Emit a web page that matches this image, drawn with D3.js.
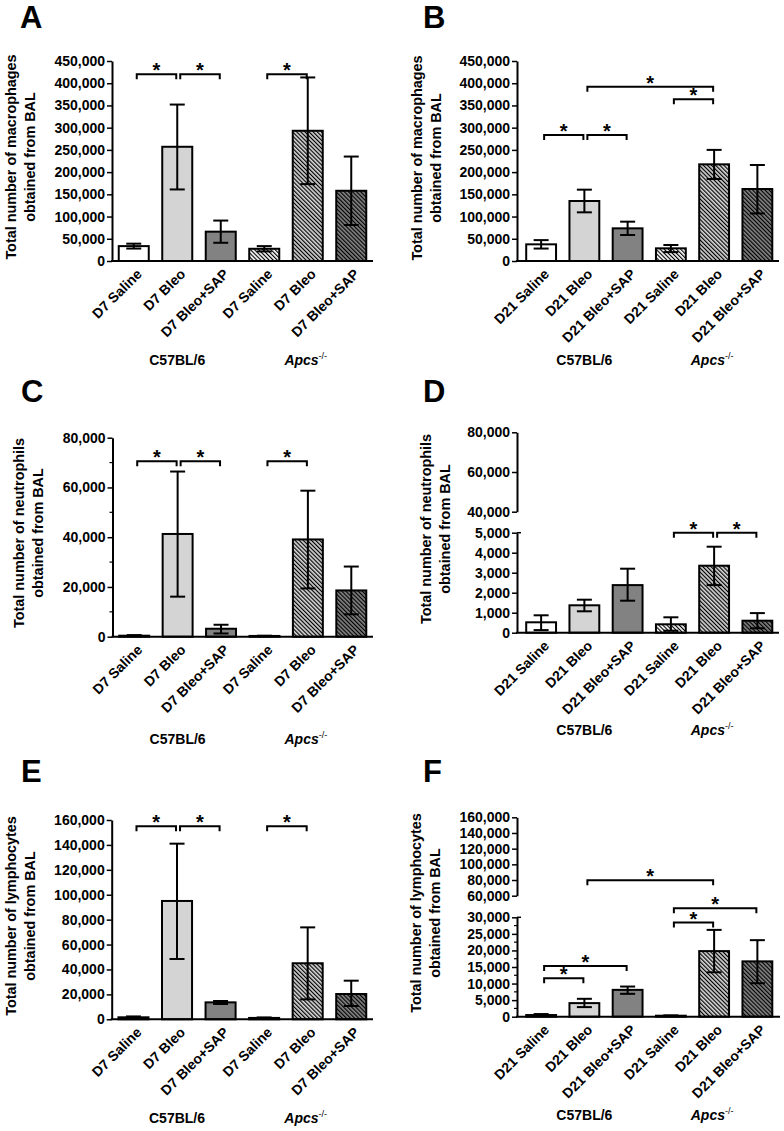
<!DOCTYPE html>
<html><head><meta charset="utf-8">
<script src="https://cdn.jsdelivr.net/npm/d3@7"></script>
<style>
body{margin:0;background:#fff}
text{font-family:"Liberation Sans",Arial,sans-serif;font-weight:bold;fill:#000}
</style>
</head><body>
<svg id="c" width="784" height="1131"></svg>
<script>
// ---------- data ----------
const labelsD7 = ["D7 Saline","D7 Bleo","D7 Bleo+SAP","D7 Saline","D7 Bleo","D7 Bleo+SAP"];
const labelsD21 = ["D21 Saline","D21 Bleo","D21 Bleo+SAP","D21 Saline","D21 Bleo","D21 Bleo+SAP"];
const strainLabels = ["C57BL/6","Apcs"];
const barFills = ["#ffffff","#d4d4d4","#828282","#ffffff","#d4d4d4","#828282"];
const barHatched = [false,false,false,true,true,true];

// A: macrophages D7
const macroD7Mean = [33500,257000,66000,27500,293000,158000];
const macroD7Low  = [28000,161000,41000,21500,173000,81000];
const macroD7High = [39000,352000,91000,33500,413000,235000];
const macroD7Sig  = [[0,1,420000],[1,2,420000],[3,4,420000]];
// B: macrophages D21
const macroD21Mean = [37500,135000,73500,28500,217500,162000];
const macroD21Low  = [28000,109500,58500,20000,184500,107000];
const macroD21High = [47000,160500,88500,36000,250000,216000];
const macroD21Sig  = [[0,1,283500],[1,2,283500],[3,4,364000],[1,4,392000]];
// C: neutrophils D7
const neutD7Mean = [400,41300,3200,300,39100,18600];
const neutD7Low  = [250,16100,1300,200,19400,9000];
const neutD7High = [650,66400,4800,400,58700,28200];
const neutD7Sig  = [[0,1,70500],[1,2,70500],[3,4,70500]];
// D: neutrophils D21
const neutD21Mean = [520,1370,2380,420,3350,600];
const neutD21Low  = [130,1070,1600,100,2380,220];
const neutD21High = [870,1650,3200,770,4300,980];
const neutD21Sig  = [[3,4,5000],[4,5,5000]];
// E: lymphocytes D7
const lymphD7Mean = [1600,95000,13600,1100,45000,20300];
const lymphD7Low  = [900,48400,12300,700,16000,10700];
const lymphD7High = [2300,141000,14700,1500,73800,31000];
const lymphD7Sig  = [[0,1,155000],[1,2,155000],[3,4,155000]];
// F: lymphocytes D21
const lymphD21Mean = [500,4100,8100,300,19800,16700];
const lymphD21Low  = [300,2900,6900,200,13400,10100];
const lymphD21High = [800,5400,9100,400,26200,23100];
const lymphD21Sig  = [[0,1,11600],[0,2,15300],[3,4,28400],[3,5,42500],[1,4,79600]];

// tick values
const macroTicks = [0,50000,100000,150000,200000,250000,300000,350000,400000,450000];
const neutD7Ticks = [0,20000,40000,60000,80000];
const neutD7Minor = [10000,30000,50000,70000];
const neutD21TicksLow = [0,1000,2000,3000,4000,5000];
const neutD21TicksHigh = [40000,60000,80000];
const lymphD7Ticks = [0,20000,40000,60000,80000,100000,120000,140000,160000];
const lymphD21TicksLow = [0,5000,10000,15000,20000,25000,30000];
const lymphD21MinorLow = [2500,7500,12500,17500,22500,27500];
const lymphD21TicksHigh = [60000,80000,100000,120000,140000,160000];

// ---------- layout ----------
const panels = [
 {L:"A", lx:20, ly:28, ax:112, br:[112,373], xEnd:373,
  segs:[{d:[0,450000], r:[261,61], t:macroTicks}],
  mean:macroD7Mean, low:macroD7Low, high:macroD7High, sig:macroD7Sig, labels:labelsD7,
  title:["Total number of macrophages","obtained from BAL"], tx:11, ty:157, gy:365},
 {L:"B", lx:423, ly:28, ax:517, br:[519.5,779], xEnd:779,
  segs:[{d:[0,450000], r:[261,61], t:macroTicks}],
  mean:macroD21Mean, low:macroD21Low, high:macroD21High, sig:macroD21Sig, labels:labelsD21,
  title:["Total number of macrophages","obtained from BAL"], tx:417, ty:158, gy:365},
 {L:"C", lx:21, ly:402, ax:112.5, br:[112.5,373], xEnd:373,
  segs:[{d:[0,80000], r:[636.7,437.7], t:neutD7Ticks, m:neutD7Minor}],
  mean:neutD7Mean, low:neutD7Low, high:neutD7High, sig:neutD7Sig, labels:labelsD7,
  title:["Total number of neutrophils","obtained from BAL"], tx:19, ty:533, gy:744},
 {L:"D", lx:423, ly:402, ax:517, br:[519.5,779], xEnd:779,
  segs:[{d:[0,5000], r:[632.7,532.7], t:neutD21TicksLow, cap:true},
        {d:[40000,80000], r:[511.7,432.3], t:neutD21TicksHigh}],
  mean:neutD21Mean, low:neutD21Low, high:neutD21High, sig:neutD21Sig, labels:labelsD21,
  title:["Total number of neutrophils","obtained from BAL"], tx:426, ty:529, gy:735},
 {L:"E", lx:21, ly:782, ax:111.7, br:[111.7,373], xEnd:373,
  segs:[{d:[0,160000], r:[1019.3,820], t:lymphD7Ticks}],
  mean:lymphD7Mean, low:lymphD7Low, high:lymphD7High, sig:lymphD7Sig, labels:labelsD7,
  title:["Total number of lymphocytes","obtained from BAL"], tx:11, ty:916, gy:1123},
 {L:"F", lx:423, ly:782, ax:517, br:[519.5,779], xEnd:780,
  segs:[{d:[0,30000], r:[1016.7,917.3], t:lymphD21TicksLow, m:lymphD21MinorLow, cap:true},
        {d:[60000,160000], r:[895.7,817.3], t:lymphD21TicksHigh}],
  mean:lymphD21Mean, low:lymphD21Low, high:lymphD21High, sig:lymphD21Sig, labels:labelsD21,
  title:["Total number of lymphocytes","obtained from BAL"], tx:416, ty:913, gy:1120}
];

const svg = d3.select("#c");
const defs = svg.append("defs");
barFills.forEach((c,i)=>{
  if(!barHatched[i]) return;
  const p = defs.append("pattern").attr("id","hatch"+i)
    .attr("patternUnits","userSpaceOnUse").attr("width",2.9).attr("height",10)
    .attr("patternTransform","rotate(-45)");
  p.append("rect").attr("width",2.9).attr("height",10).attr("fill",c);
  p.append("rect").attr("width",1.15).attr("height",10).attr("fill","#000");
});
const fmt = d3.format(",");

panels.forEach(P=>{
  const g = svg.append("g");
  const idx = d3.range(P.mean.length);
  const x = d3.scaleBand().domain(idx).range(P.br).paddingInner(0.31).paddingOuter(0.155);
  const dom = [], rng = [];
  P.segs.forEach(s=>{dom.push(s.d[0],s.d[1]); rng.push(s.r[0],s.r[1]);});
  const y = d3.scaleLinear().domain(dom).range(rng);
  const y0 = y(0);
  const cx = i => x(i) + x.bandwidth()/2;

  // bars
  g.selectAll("rect.bar").data(idx).join("rect").attr("class","bar")
    .attr("x", i=>x(i)).attr("width", x.bandwidth())
    .attr("y", i=>y(P.mean[i])).attr("height", i=>y0 - y(P.mean[i]))
    .attr("fill", i=> barHatched[i] ? "url(#hatch"+i+")" : barFills[i])
    .attr("stroke","#000").attr("stroke-width",2);

  // error bars
  const cw = 7.5;
  idx.forEach(i=>{
    const c = cx(i);
    g.append("line").attr("x1",c).attr("x2",c).attr("y1",y(P.low[i])).attr("y2",y(P.high[i]))
      .attr("stroke","#000").attr("stroke-width",2);
    [P.low[i],P.high[i]].forEach(v=>{
      g.append("line").attr("x1",c-cw).attr("x2",c+cw).attr("y1",y(v)).attr("y2",y(v))
        .attr("stroke","#000").attr("stroke-width",2);
    });
  });

  // y axis segments
  P.segs.forEach(s=>{
    const ys = d3.scaleLinear().domain(s.d).range(s.r);
    const ag = g.append("g").attr("transform",`translate(${P.ax},0)`)
      .call(d3.axisLeft(ys).tickValues(s.t).tickFormat(fmt).tickSize(5).tickSizeOuter(0).tickPadding(2));
    ag.select(".domain").attr("stroke-width",2);
    ag.selectAll(".tick line").attr("stroke-width",1.5);
    ag.selectAll(".tick text").attr("font-size",14).attr("font-weight","bold");
    if(s.m){
      ag.selectAll("line.minor").data(s.m).join("line").attr("class","minor")
        .attr("x1",-3).attr("x2",0).attr("y1",d=>ys(d)).attr("y2",d=>ys(d))
        .attr("stroke","#000").attr("stroke-width",1.2);
    }
    if(s.cap){
      ag.append("line").attr("x1",0).attr("x2",4).attr("y1",ys(s.d[1])).attr("y2",ys(s.d[1]))
        .attr("stroke","#000").attr("stroke-width",1.5);
    }
  });

  // x axis line
  g.append("line").attr("x1",P.ax-1).attr("x2",P.xEnd).attr("y1",y0).attr("y2",y0)
    .attr("stroke","#000").attr("stroke-width",2);

  // x labels
  g.selectAll("text.xl").data(idx).join("text").attr("class","xl")
    .attr("transform", i=>`translate(${cx(i)+2},${y0+7}) rotate(-45)`)
    .attr("text-anchor","end").attr("font-size",14).attr("dy","0.7em")
    .text(i=>P.labels[i]);

  // group labels
  g.append("text").attr("x",cx(1)).attr("y",P.gy).attr("text-anchor","middle").attr("font-size",14)
    .text(strainLabels[0]);
  const ap = g.append("text").attr("x",cx(4)-2).attr("y",P.gy).attr("text-anchor","middle").attr("font-size",14);
  ap.append("tspan").attr("font-style","italic").text(strainLabels[1]);
  ap.append("tspan").attr("font-size",9).attr("font-weight","normal").attr("dy",-6).text("-/-");

  // y title
  P.title.forEach((t,k)=>{
    g.append("text").attr("transform",`translate(${P.tx + k*19},${P.ty}) rotate(-90)`)
      .attr("text-anchor","middle").attr("dy","0.35em").attr("font-size",14.4).text(t);
  });

  // significance brackets
  P.sig.forEach(([a,b,v])=>{
    const yy = y(v), x1 = cx(a)+3, x2 = cx(b)-1;
    g.append("path").attr("d",`M${x1},${yy+5}V${yy}H${x2}V${yy+5}`)
      .attr("fill","none").attr("stroke","#000").attr("stroke-width",2);
    g.append("text").attr("x",(x1+x2)/2).attr("y",yy+3).attr("text-anchor","middle")
      .attr("font-size",20).text("*");
  });

  // panel letter
  g.append("text").attr("x",P.lx).attr("y",P.ly).attr("font-size",31).text(P.L);
});
</script>
</body></html>
